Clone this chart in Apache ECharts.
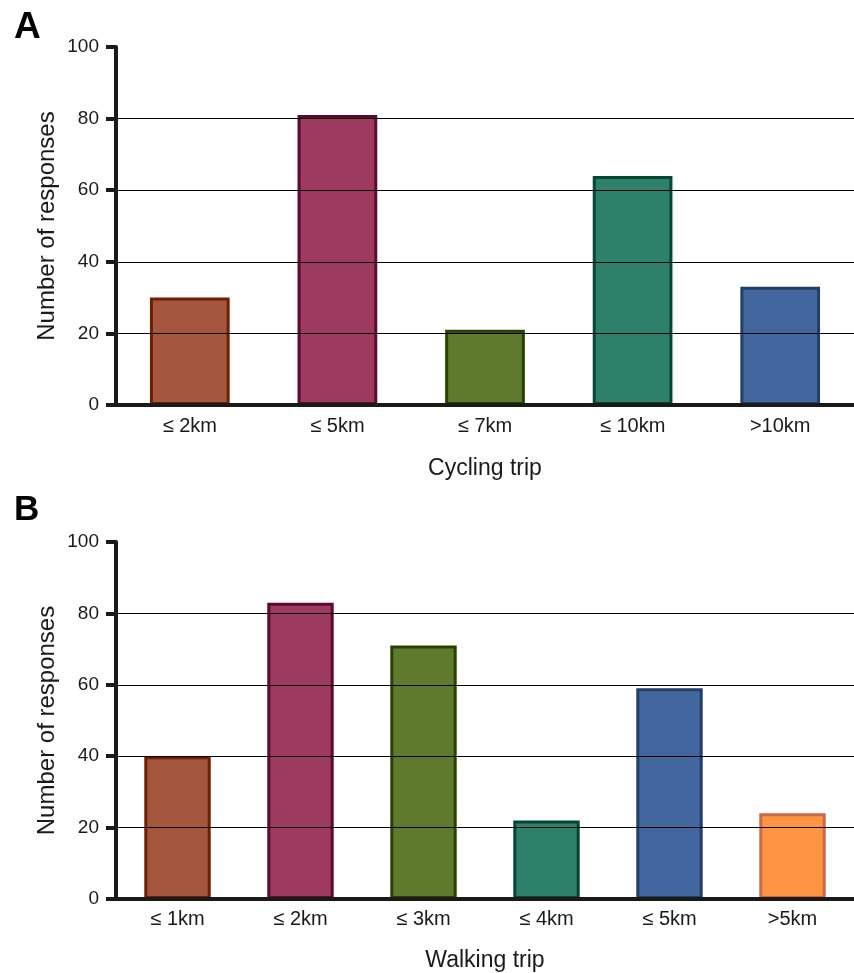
<!DOCTYPE html>
<html>
<head>
<meta charset="utf-8">
<style>
  html, body { margin: 0; padding: 0; background: #fff; }
  #chart { width: 854px; height: 973px; }
</style>
<script src="https://cdn.jsdelivr.net/npm/echarts@6/dist/echarts.min.js"></script>
</head>
<body>
<div id="chart"></div>
<script>
// Survey responses by trip distance
const cyclingCategories = ['≤ 2km', '≤ 5km', '≤ 7km', '≤ 10km', '>10km'];
const cyclingValues = [30, 81, 21, 64, 33];
const walkingCategories = ['≤ 1km', '≤ 2km', '≤ 3km', '≤ 4km', '≤ 5km', '>5km'];
const walkingValues = [40, 83, 71, 22, 59, 24];
const yTicks = [0, 20, 40, 60, 80, 100];

// fill / outline pairs, in category order
const palette = [
  { fill: '#A5573D', line: '#6E1F00' },
  { fill: '#9E3A5E', line: '#5C0A30' },
  { fill: '#5F7A2C', line: '#2A4200' },
  { fill: '#2D806A', line: '#064634' },
  { fill: '#42679E', line: '#243F66' },
  { fill: '#FF9442', line: '#C8694A' }
];
const cyclingPalette = [palette[0], palette[1], palette[2], palette[3], palette[4]];
const walkingPalette = palette;

const font = 'Liberation Sans, Arial, sans-serif';
const ink = '#1a1a1a';

function xAxis(gridIndex, cats, name, nameGap, labelMargin) {
  return {
    type: 'category', gridIndex, data: cats,
    name, nameLocation: 'middle', nameGap, nameMoveOverlap: false,
    nameTextStyle: { fontFamily: font, fontSize: 23, color: ink },
    axisLine: { lineStyle: { color: ink, width: 4 } },
    axisTick: { alignWithLabel: true, length: 10, lineStyle: { color: ink, width: 4 } },
    axisLabel: { fontFamily: font, fontSize: 20, color: ink, margin: labelMargin },
    z: 5
  };
}

function yAxis(gridIndex) {
  return {
    type: 'value', gridIndex, min: yTicks[0], max: yTicks[yTicks.length - 1],
    interval: yTicks[1] - yTicks[0],
    name: 'Number of responses', nameLocation: 'middle', nameGap: 57, nameMoveOverlap: false,
    nameTextStyle: { fontFamily: font, fontSize: 24, color: ink },
    axisLine: { show: true, lineStyle: { color: ink, width: 4 } },
    axisTick: { show: true, length: 10, lineStyle: { color: ink, width: 4 } },
    axisLabel: { fontFamily: font, fontSize: 19, color: ink, margin: 17 },
    splitLine: { show: true, showMaxLine: false, lineStyle: { color: '#000', width: 1 } },
    z: 5
  };
}

function bars(idx, values, colors) {
  return {
    type: 'bar', xAxisIndex: idx, yAxisIndex: idx, barWidth: '54%',
    data: values.map((v, i) => ({
      value: v,
      itemStyle: { color: colors[i].fill, borderColor: colors[i].line, borderWidth: 3 }
    }))
  };
}

const chart = echarts.init(document.getElementById('chart'));
chart.setOption({
  animation: false,
  title: [
    { text: 'A', left: 9, top: 4, textStyle: { fontFamily: font, fontSize: 37, fontWeight: 'bold', color: '#000' } },
    { text: 'B', left: 9, top: 488, textStyle: { fontFamily: font, fontSize: 35, fontWeight: 'bold', color: '#000' } }
  ],
  grid: [
    { left: 116, top: 47, width: 741, height: 358 },
    { left: 116, top: 542, width: 744, height: 358 }
  ],
  xAxis: [
    xAxis(0, cyclingCategories, 'Cycling trip', 52, 11),
    xAxis(1, walkingCategories, 'Walking trip', 50, 10)
  ],
  yAxis: [yAxis(0), yAxis(1)],
  series: [bars(0, cyclingValues, cyclingPalette), bars(1, walkingValues, walkingPalette)]
});
</script>
</body>
</html>
